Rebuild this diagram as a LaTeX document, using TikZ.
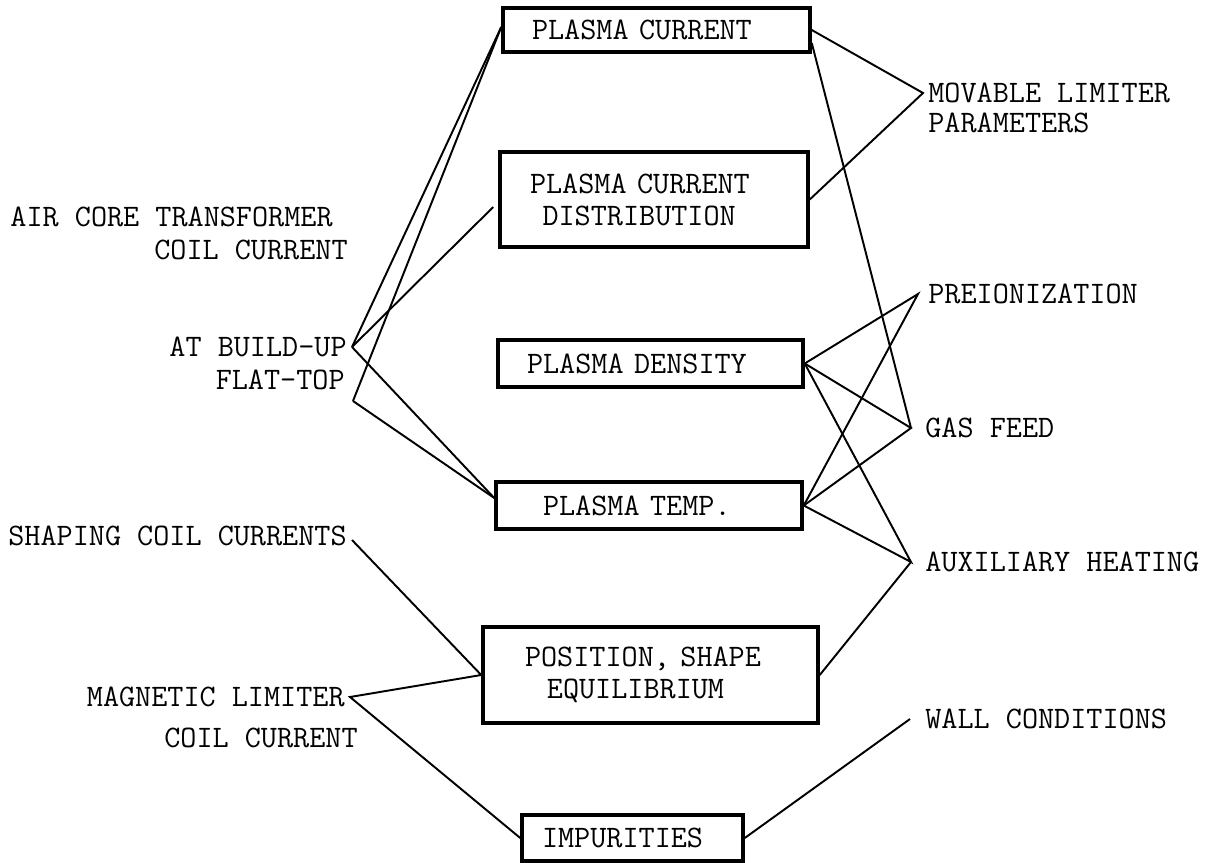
\documentclass[tikz,border=0pt]{standalone}
\usepackage{fontspec}

\begin{document}
\begin{tikzpicture}[
    every node/.style={font=\fontsize{17.8pt}{18.2pt}\selectfont\ttfamily},
    box/.style={draw, line width=2pt, align=left, inner ysep=0pt},
    lbl/.style={inner xsep=0.1cm, inner ysep=0.05cm},
    link/.style={line width=1.1pt}]

  \useasboundingbox (0,0) rectangle (24.18,-17.26);

  % plasma quantities
  \node[box, text width=4.98cm, inner xsep=0.58cm, minimum height=0.88cm] (pc) at (13.13,-0.60) {PLASMA CURRENT};
  \node[box, text width=4.96cm, inner xsep=0.60cm, minimum height=1.90cm] (pcd) at (13.08,-3.99) {PLASMA CURRENT\\\hspace*{0.4em}DISTRIBUTION};
  \node[box, text width=4.94cm, inner xsep=0.58cm, minimum height=0.94cm] (pd) at (13.01,-7.27) {PLASMA DENSITY};
  \node[box, text width=4.24cm, inner xsep=0.94cm, minimum height=0.94cm] (pt) at (12.98,-10.11) {PLASMA TEMP.};
  \node[box, text width=5.02cm, inner xsep=0.84cm, minimum height=1.92cm] (pos) at (13.01,-13.50) {POSITION, SHAPE\\\hspace*{0.7em}EQUILIBRIUM};
  \node[box, text width=3.62cm, inner xsep=0.40cm, minimum height=0.92cm] (imp) at (12.65,-16.76) {IMPURITIES};

  % coil currents
  \node[lbl, anchor=east] (air) at (6.76,-4.34) {AIR CORE TRANSFORMER};
  \node[lbl, anchor=east] (aircoil) at (7.06,-5.00) {COIL CURRENT};
  \node[lbl, anchor=east] (atb) at (7.04,-6.94) {AT BUILD-UP};
  \node[lbl, anchor=east] (flat) at (7.00,-7.60) {FLAT-TOP};
  \coordinate (ft) at (7.06,-8.02);
  \node[lbl, anchor=east] (shp) at (7.04,-10.72) {SHAPING COIL CURRENTS};
  \node[lbl, anchor=east] (mag) at (7.00,-13.94) {MAGNETIC LIMITER};
  \node[lbl, anchor=east] (magcoil) at (7.26,-14.76) {COIL CURRENT};

  % other controls
  \node[lbl, anchor=west] (mov) at (18.46,-1.86) {MOVABLE LIMITER};
  \node[lbl, anchor=west] (par) at (18.46,-2.46) {PARAMETERS};
  \node[lbl, anchor=west, inner xsep=0.2cm] (pre) at (18.36,-5.88) {PREIONIZATION};
  \node[lbl, anchor=west, inner xsep=0.28cm] (gas) at (18.22,-8.56) {GAS FEED};
  \node[lbl, anchor=west, inner xsep=0.28cm] (aux) at (18.22,-11.24) {AUXILIARY HEATING};
  \node[lbl, anchor=west, inner xsep=0.3cm] (wall) at (18.20,-14.38) {WALL CONDITIONS};

  \draw[link] (atb.east) -- ([yshift=0.06cm]pc.west);
  \draw[link] (ft) -- ([yshift=0.06cm]pc.west);
  \draw[link] (atb.east) -- ([xshift=-0.1cm,yshift=-0.15cm]pcd.west);
  \draw[link] (atb.east) -- ([yshift=0.15cm]pt.west);
  \draw[link] (ft) -- ([yshift=0.15cm]pt.west);

  \draw[link] (pc.east) -- (mov.west) -- (pcd.east);
  \draw[link] ([yshift=-0.26cm]pc.east) -- (gas.west);
  \draw[link] (pd.east) -- (pre.west) -- (pt.east);
  \draw[link] (pd.east) -- (gas.west) -- (pt.east);
  \draw[link] (pd.east) -- (aux.west) -- (pt.east);
  \draw[link] (pos.east) -- (aux.west);

  \draw[link] ([yshift=-0.08cm]shp.east) -- (pos.west) -- (mag.east) -- (imp.west);
  \draw[link] (imp.east) -- (wall.west);
\end{tikzpicture}
\end{document}
